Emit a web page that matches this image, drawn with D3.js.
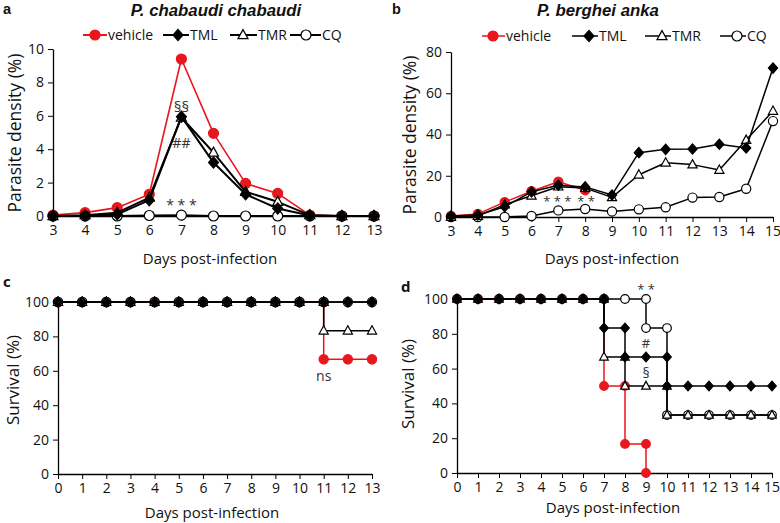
<!DOCTYPE html>
<html><head><meta charset="utf-8">
<script src="https://cdn.jsdelivr.net/npm/d3@7"></script>
<style>
body{margin:0;background:#fff;}
svg{display:block;font-family:"Open Sans", sans-serif;}
</style></head>
<body><svg id="c" width="780" height="523"></svg>
<script>
// ---------- DATA ----------
const seriesNames = ["vehicle","TML","TMR","CQ"];
// Panel a: P. chabaudi chabaudi, parasite density (%)
const daysA = [3,4,5,6,7,8,9,10,11,12,13];
const aVehicle = [0.05,0.2,0.5,1.3,9.4,4.95,1.95,1.35,0.05,0,0];
const aTML     = [0,0.02,0.1,0.95,5.95,3.2,1.3,0.45,0.03,0,0];
const aTMR     = [0,0.05,0.2,1.1,5.9,3.8,1.45,0.85,0.05,0,0];
const aCQ      = [0,0,0,0.03,0.05,0,0,0,0,0,0];
const aYTicks = [0,2,4,6,8,10];
// Panel b: P. berghei anka, parasite density (%)
const daysB = [3,4,5,6,7,8,9,10,11,12,13,14,15];
const bVehicle = [0.5,1.5,7.2,12.5,17.1,13.0];
const bTML     = [0.5,1.0,5.0,12.2,15.4,14.6,10.7,31.2,32.8,33.0,35.3,33.5,72.2];
const bTMR     = [0,0.5,6.0,10.3,14.7,14.0,9.5,20.5,26.3,25.4,22.8,37.3,51.4];
const bCQ      = [0,0,0,0.5,3.2,3.9,2.7,3.7,4.7,9.4,9.7,13.7,46.5];
const bYTicks = [0,20,40,60,80];
// Panel c: survival (%) P. chabaudi
const daysC = [0,1,2,3,4,5,6,7,8,9,10,11,12,13];
const cVehicle = [100,100,100,100,100,100,100,100,100,100,100,66.7,66.7,66.7];
const cTML     = [100,100,100,100,100,100,100,100,100,100,100,100,100,100];
const cTMR     = [100,100,100,100,100,100,100,100,100,100,100,83.3,83.3,83.3];
const cCQ      = [100,100,100,100,100,100,100,100,100,100,100,100,100,100];
// Panel d: survival (%) P. berghei
const daysD = [0,1,2,3,4,5,6,7,8,9,10,11,12,13,14,15];
const dVehicle = [100,100,100,100,100,100,100,50,16.7,0];
const dTML     = [100,100,100,100,100,100,100,83.3,66.7,66.7,50,50,50,50,50,50];
const dTMR     = [100,100,100,100,100,100,100,66.7,50,50,33.3,33.3,33.3,33.3,33.3,33.3];
const dCQ      = [100,100,100,100,100,100,100,100,100,83.3,33.3,33.3,33.3,33.3,33.3,33.3];
const survYTicks = [0,20,40,60,80,100];

// ---------- STYLE ----------
const RED = "#e8161d";
const FONT = "'Open Sans', sans-serif";
const TOPFONT = "'Liberation Sans', Arial, sans-serif";
const svg = d3.select("#c");

function markerPath(type, s){
  if(type==="circle"){ return d3.symbol(d3.symbolCircle, Math.PI*s*s)(); }
  if(type==="diamond"){ const h=s*1.12, w=s*1.0; return `M0,${-h}L${w},0L0,${h}L${-w},0Z`; }
  if(type==="triangle"){ const w=s*1.0, h=s*1.8; return `M0,${-h*0.6}L${w},${h*0.4}L${-w},${h*0.4}Z`; }
}
const styles = {
  vehicle:{type:"circle", fill:RED, stroke:RED, line:RED},
  TML:{type:"diamond", fill:"#000", stroke:"#000", line:"#000"},
  TMR:{type:"triangle", fill:"#fff", stroke:"#000", line:"#000"},
  CQ:{type:"circle", fill:"#fff", stroke:"#000", line:"#000"}
};

function drawAxes(g, x, y, yTicks, yMinor, xTicks){
  const ya = g.append("g").attr("transform",`translate(${x.range()[0]},0)`);
  ya.call(d3.axisLeft(y).tickValues(yMinor).tickSize(3).tickFormat("").tickSizeOuter(0));
  ya.call(d3.axisLeft(y).tickValues(yTicks).tickSize(5).tickSizeOuter(0).tickPadding(4));
  const xa = g.append("g").attr("transform",`translate(0,${y.range()[0]})`);
  xa.call(d3.axisBottom(x).tickValues(xTicks).tickSize(5).tickSizeOuter(0).tickPadding(4));
  g.selectAll(".domain").attr("stroke","#000").attr("stroke-width",1.3);
  g.selectAll(".tick line").attr("stroke","#000").attr("stroke-width",1);
  g.selectAll(".tick text").attr("font-size",14).attr("fill","#111").attr("font-family",FONT);
  // keep the rightmost x label inside the picture
  const last = xa.selectAll(".tick text").filter(d=>d===xTicks[xTicks.length-1]);
  if(x(xTicks[xTicks.length-1])>765) last.attr("text-anchor","end").attr("dx","7.5");
}

function drawSeries(g, x, y, pts, name, lw, ms){
  const st = styles[name];
  g.append("path").datum(pts)
    .attr("d", d3.line().x(d=>x(d[0])).y(d=>y(d[1])))
    .attr("fill","none").attr("stroke",st.line).attr("stroke-width",lw).attr("stroke-linejoin","round");
  g.selectAll(null).data(pts).enter().append("path")
    .attr("transform",d=>`translate(${x(d[0])},${y(d[1])})`)
    .attr("d",markerPath(st.type, ms))
    .attr("fill",st.fill).attr("stroke",st.stroke).attr("stroke-width",1.2);
}

function zipPts(days, vals){ return vals.map((v,i)=>[days[i],v]); }
function stepPts(days, vals){
  const out=[];
  vals.forEach((v,i)=>{
    if(i>0 && v<vals[i-1]) out.push([days[i], vals[i-1]]);
    out.push([days[i], v]);
  });
  return out;
}

function legend(g, cy, items, lw){
  items.forEach(it=>{
    const st = styles[it.name];
    g.append("line").attr("x1",it.x0).attr("x2",it.x1).attr("y1",cy).attr("y2",cy)
      .attr("stroke",st.line).attr("stroke-width",lw);
    g.append("path").attr("transform",`translate(${it.m},${cy})`).attr("d",markerPath(st.type,5))
      .attr("fill",st.fill).attr("stroke",st.stroke).attr("stroke-width",1.2);
    g.append("text").attr("x",it.x1+1).attr("y",cy).attr("dy","0.36em")
      .attr("font-size",14).attr("fill","#111").text(it.name);
  });
}

function text(g, x, y, s, opts={}){
  const t = g.append("text").attr("x",x).attr("y",y).text(s)
    .attr("font-size",opts.size||15).attr("fill",opts.fill||"#111");
  if(opts.anchor) t.attr("text-anchor",opts.anchor);
  if(opts.weight) t.attr("font-weight",opts.weight);
  if(opts.style) t.attr("font-style",opts.style);
  if(opts.family) t.attr("font-family",opts.family);
  if(opts.rotate) t.attr("transform",`rotate(-90,${x},${y})`);
  return t;
}

// ---------- PANEL A ----------
{
  const g = svg.append("g");
  const x = d3.scaleLinear().domain([3,13]).range([53,374]);
  const y = d3.scaleLinear().domain([0,10]).range([216,49]);
  drawAxes(g, x, y, aYTicks, d3.range(0,11,1), daysA);
  const data = {vehicle:aVehicle, CQ:aCQ, TMR:aTMR, TML:aTML};
  ["vehicle","CQ","TMR","TML"].forEach(n=>drawSeries(g,x,y,zipPts(daysA,data[n]),n,n==="vehicle"?1.6:2,5));
  legend(g, 35, [
    {name:"vehicle", x0:83, x1:107, m:95},
    {name:"TML", x0:163, x1:189, m:178},
    {name:"TMR", x0:230, x1:257, m:243},
    {name:"CQ", x0:290, x1:321, m:306}
  ], 2);
  text(g, 3, 13.5, "a", {weight:"bold", size:14.5, family:TOPFONT});
  text(g, 216, 15.5, "P. chabaudi chabaudi", {weight:"bold", style:"italic", anchor:"middle", size:16.8, family:TOPFONT});
  text(g, 210, 264, "Days post-infection", {anchor:"middle", size:15});
  text(g, 21, 133, "Parasite density (%)", {anchor:"middle", size:17.5, rotate:true});
  text(g, x(7), 112, "§§", {anchor:"middle", size:15, fill:"#333"});
  text(g, x(7), 148, "##", {anchor:"middle", size:14, fill:"#333"});
  text(g, x(7), 210, "* * *", {anchor:"middle", size:14, fill:"#333"});
}

// ---------- PANEL B ----------
{
  const g = svg.append("g");
  const x = d3.scaleLinear().domain([3,15]).range([451,773]);
  const y = d3.scaleLinear().domain([0,80]).range([217,52]);
  drawAxes(g, x, y, bYTicks, d3.range(0,81,10), daysB);
  const data = {vehicle:bVehicle, CQ:bCQ, TMR:bTMR, TML:bTML};
  ["vehicle","CQ","TMR","TML"].forEach(n=>drawSeries(g,x,y,zipPts(daysB,data[n]),n,1.5,4.6));
  legend(g, 36, [
    {name:"vehicle", x0:482, x1:505, m:493},
    {name:"TML", x0:572, x1:598, m:589},
    {name:"TMR", x0:645, x1:671, m:662},
    {name:"CQ", x0:720, x1:746, m:737}
  ], 1.5);
  text(g, 392, 13.5, "b", {weight:"bold", size:14.5, family:TOPFONT});
  text(g, 598, 15.5, "P. berghei anka", {weight:"bold", style:"italic", anchor:"middle", size:16.8, family:TOPFONT});
  text(g, 612, 264, "Days post-infection", {anchor:"middle", size:15});
  text(g, 416, 135, "Parasite density (%)", {anchor:"middle", size:17.5, rotate:true});
  text(g, x(7)-1, 206, "* * *", {anchor:"middle", size:13, fill:"#333"});
  text(g, x(8)+1, 206, "* *", {anchor:"middle", size:13, fill:"#333"});
}

// ---------- PANEL C ----------
{
  const g = svg.append("g");
  const x = d3.scaleLinear().domain([0,13]).range([58,372]);
  const y = d3.scaleLinear().domain([0,100]).range([474,302]);
  drawAxes(g, x, y, survYTicks, d3.range(0,101,10), daysC);
  const data = {vehicle:cVehicle, CQ:cCQ, TMR:cTMR, TML:cTML};
  ["vehicle","CQ","TMR","TML"].forEach(n=>drawSeries(g,x,y,stepPts(daysC,data[n]),n,1.5,4.6));
  text(g, 3, 287, "c", {weight:"bold", size:15});
  text(g, 212, 518, "Days post-infection", {anchor:"middle", size:15});
  text(g, 18.5, 380, "Survival (%)", {anchor:"middle", size:17, rotate:true});
  text(g, x(11), 381, "ns", {anchor:"middle", size:14, fill:"#333"});
}

// ---------- PANEL D ----------
{
  const g = svg.append("g");
  const x = d3.scaleLinear().domain([0,15]).range([457,772]);
  const y = d3.scaleLinear().domain([0,100]).range([473,299]);
  drawAxes(g, x, y, survYTicks, d3.range(0,101,10), daysD);
  const data = {vehicle:dVehicle, CQ:dCQ, TMR:dTMR, TML:dTML};
  ["vehicle","CQ","TMR","TML"].forEach(n=>drawSeries(g,x,y,stepPts(daysD,data[n]),n,1.5,4.3));
  text(g, 401, 292, "d", {weight:"bold", size:15});
  text(g, 613, 513, "Days post-infection", {anchor:"middle", size:15});
  text(g, 414, 384, "Survival (%)", {anchor:"middle", size:17, rotate:true});
  text(g, x(9), 294, "* *", {anchor:"middle", size:13, fill:"#333"});
  text(g, x(9), 348, "#", {anchor:"middle", size:13, fill:"#333"});
  text(g, x(9), 378, "§", {anchor:"middle", size:14, fill:"#333"});
}
</script></body></html>
